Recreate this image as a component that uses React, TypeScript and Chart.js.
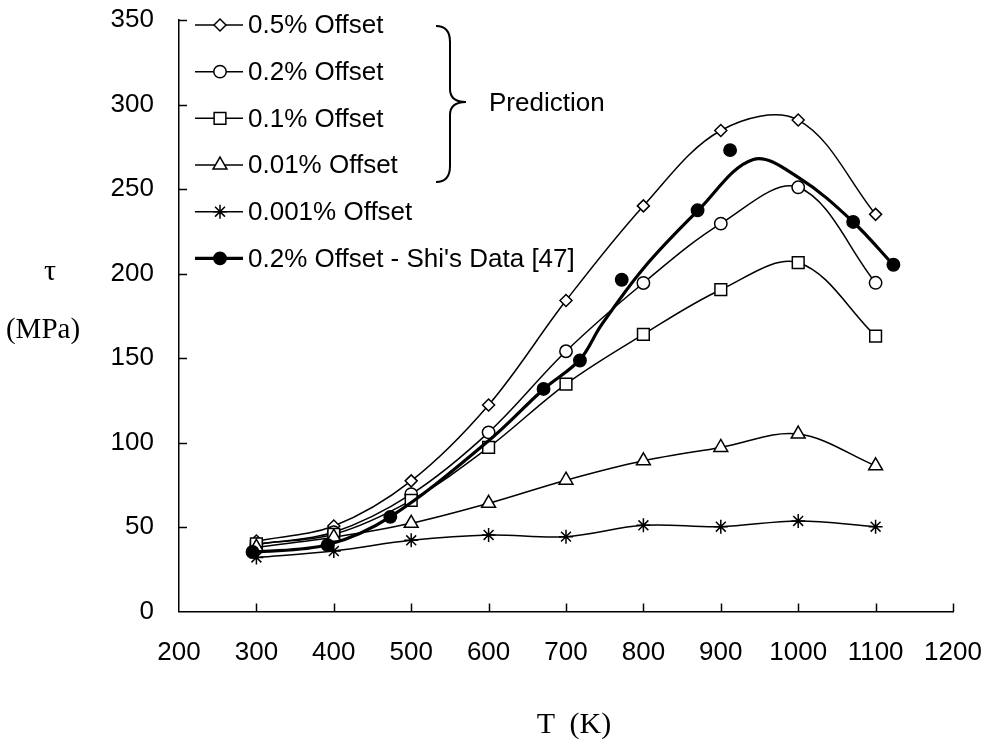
import React, { useEffect, useRef } from 'react';
import { Chart, registerables } from 'chart.js';

Chart.register(...registerables);

// ---- data ----
const temps = [300, 400, 500, 600, 700, 800, 900, 1000, 1100];
const offset05 = [41.7, 50.6, 77.3, 122.2, 184, 240, 284.6, 290.8, 235];
const offset02 = [39.7, 46.9, 69.4, 106, 154, 194.4, 229.5, 251, 194.5];
const offset01 = [40, 45.7, 65.8, 97.1, 134.6, 164, 190.4, 206.4, 163];
const offset001 = [38, 44, 52.2, 64, 77.7, 89.2, 97.1, 105, 86.2];
const offset0001 = [32, 35.8, 42.1, 45.3, 44.3, 51, 50.2, 53.6, 50.2];

const shiT = [295, 392, 473, 671, 718, 772, 870, 912, 1071, 1123];
const shiTau = [35.2, 39.3, 56, 131.7, 148.5, 196.3, 237.4, 273, 230.5, 205.2];

const shiFitT = [295, 392, 473, 600, 671, 718, 745, 800, 870, 942, 1003, 1071, 1123];
const shiFitTau = [35, 39.5, 56, 101, 131.5, 149, 169, 203, 237, 267.5, 256, 230.5, 205];

const xTickValues = [200, 300, 400, 500, 600, 700, 800, 900, 1000, 1100, 1200];
const yTickValues = [0, 50, 100, 150, 200, 250, 300, 350];

const legendLabels = [
  '0.5% Offset',
  '0.2% Offset',
  '0.1% Offset',
  '0.01% Offset',
  '0.001% Offset',
  "0.2% Offset - Shi's Data [47]",
];

const FONT = '"Liberation Sans", Arial, sans-serif';
const SERIF = '"Liberation Serif", "Times New Roman", serif';

const toXY = (xs: number[], ys: number[]) => xs.map((x, i) => ({ x, y: ys[i] }));

type Marker = { style: string; radius: number; filled: boolean };
const markers: Marker[] = [
  { style: 'rectRot', radius: 6, filled: false },
  { style: 'circle', radius: 6.2, filled: false },
  { style: 'rect', radius: 8.3, filled: false },
  { style: 'triangle', radius: 8, filled: false },
  { style: 'star', radius: 7, filled: false },
  { style: 'circle', radius: 6.2, filled: true },
];
const legendLineWidths = [1.5, 1.5, 1.5, 1.5, 1.5, 3.2];

function drawMarker(ctx: CanvasRenderingContext2D, m: Marker, x: number, y: number) {
  const r = m.radius;
  ctx.beginPath();
  if (m.style === 'circle') {
    ctx.arc(x, y, r, 0, Math.PI * 2);
  } else if (m.style === 'rectRot') {
    ctx.moveTo(x - r, y);
    ctx.lineTo(x, y - r);
    ctx.lineTo(x + r, y);
    ctx.lineTo(x, y + r);
    ctx.closePath();
  } else if (m.style === 'rect') {
    const s = r * Math.SQRT1_2;
    ctx.rect(x - s, y - s, 2 * s, 2 * s);
  } else if (m.style === 'triangle') {
    for (let k = 0; k < 3; k++) {
      const a = (k * 2 * Math.PI) / 3;
      const px = x + Math.sin(a) * r;
      const py = y - Math.cos(a) * r;
      if (k === 0) ctx.moveTo(px, py);
      else ctx.lineTo(px, py);
    }
    ctx.closePath();
  } else if (m.style === 'star') {
    for (let k = 0; k < 4; k++) {
      const a = (k * Math.PI) / 4;
      ctx.moveTo(x - Math.cos(a) * r, y - Math.sin(a) * r);
      ctx.lineTo(x + Math.cos(a) * r, y + Math.sin(a) * r);
    }
  }
  if (m.style !== 'star') {
    ctx.fillStyle = m.filled ? '#000' : '#fff';
    ctx.fill();
  }
  ctx.stroke();
}

const decorPlugin = {
  id: 'decor',
  afterDraw(chart: any) {
    const ctx: CanvasRenderingContext2D = chart.ctx;
    const { left, bottom } = chart.chartArea;
    const xs = chart.scales.x;
    const ys = chart.scales.y;
    ctx.save();
    ctx.strokeStyle = '#000';
    ctx.lineWidth = 1.5;
    // inward tick marks
    for (const v of xTickValues) {
      if (v === xTickValues[0]) continue;
      const px = Math.round(xs.getPixelForValue(v)) + 0.5;
      ctx.beginPath();
      ctx.moveTo(px, bottom);
      ctx.lineTo(px, bottom - 8);
      ctx.stroke();
    }
    for (const v of yTickValues) {
      if (v === yTickValues[0]) continue;
      const py = Math.round(ys.getPixelForValue(v)) + 0.5;
      ctx.beginPath();
      ctx.moveTo(left, py);
      ctx.lineTo(left + 8, py);
      ctx.stroke();
    }

    // legend
    const rowY0 = 25;
    const rowGap = 46.67;
    ctx.font = `26px ${FONT}`;
    ctx.textBaseline = 'middle';
    ctx.textAlign = 'left';
    legendLabels.forEach((label, i) => {
      const y = rowY0 + i * rowGap;
      ctx.lineWidth = legendLineWidths[i];
      ctx.strokeStyle = '#000';
      ctx.beginPath();
      ctx.moveTo(195, y);
      ctx.lineTo(243, y);
      ctx.stroke();
      ctx.lineWidth = 1.5;
      drawMarker(ctx, markers[i], 220, y);
      ctx.fillStyle = '#000';
      ctx.fillText(label, 248, y + 1);
    });

    // brace
    ctx.lineWidth = 2;
    ctx.strokeStyle = '#000';
    ctx.beginPath();
    ctx.moveTo(436, 26);
    ctx.quadraticCurveTo(450, 26, 450, 42);
    ctx.lineTo(450, 89);
    ctx.quadraticCurveTo(450, 102, 466, 102);
    ctx.quadraticCurveTo(450, 102, 450, 115);
    ctx.lineTo(450, 166);
    ctx.quadraticCurveTo(450, 182, 436, 182);
    ctx.stroke();
    ctx.restore();
  },
};

function buildConfig(): any {
  const thin = (data: number[], i: number) => ({
    label: legendLabels[i],
    data: toXY(temps, data),
    showLine: true,
    borderColor: '#000',
    borderWidth: 1.5,
    tension: 0.35,
    pointStyle: markers[i].style,
    pointRadius: markers[i].radius,
    pointBorderWidth: 1.5,
    pointBorderColor: '#000',
    pointBackgroundColor: '#fff',
    order: 10 - i,
  });
  return {
    type: 'scatter',
    data: {
      datasets: [
        {
          label: 'Shi fit',
          data: toXY(shiFitT, shiFitTau),
          showLine: true,
          borderColor: '#000',
          borderWidth: 3.2,
          tension: 0.35,
          pointRadius: 0,
          order: 2,
        },
        {
          label: legendLabels[5],
          data: toXY(shiT, shiTau),
          showLine: false,
          pointStyle: 'circle',
          pointRadius: markers[5].radius,
          pointBorderWidth: 1.5,
          pointBorderColor: '#000',
          pointBackgroundColor: '#000',
          order: 1,
        },
        thin(offset05, 0),
        thin(offset02, 1),
        thin(offset01, 2),
        thin(offset001, 3),
        thin(offset0001, 4),
      ],
    },
    options: {
      animation: false,
      responsive: false,
      devicePixelRatio: 1,
      layout: { padding: { left: 0, top: 20, right: 32, bottom: 0 } },
      plugins: {
        legend: { display: false },
        tooltip: { enabled: false },
        title: { display: false },
      },
      scales: {
        x: {
          type: 'linear',
          min: 200,
          max: 1200,
          afterFit: (s: any) => {
            s.height = 746 - 611.5;
            s.paddingLeft = 0;
            s.paddingRight = 0;
            s.paddingTop = 0;
            s.paddingBottom = 0;
          },
          afterBuildTicks: (s: any) => {
            s.ticks = xTickValues.map((v) => ({ value: v }));
          },
          ticks: {
            stepSize: 100,
            autoSkip: false,
            maxRotation: 0,
            padding: 26,
            color: '#000',
            font: { family: FONT, size: 26 },
            callback: (v: any) => String(v),
          },
          grid: { display: false, drawTicks: false },
          border: { display: true, color: '#000', width: 1.5 },
        },
        y: {
          type: 'linear',
          min: 0,
          max: 350,
          afterFit: (s: any) => {
            s.width = 179;
            s.paddingLeft = 0;
            s.paddingRight = 0;
            s.paddingTop = 0;
            s.paddingBottom = 0;
          },
          afterBuildTicks: (s: any) => {
            s.ticks = yTickValues.map((v) => ({ value: v }));
          },
          ticks: {
            stepSize: 50,
            autoSkip: false,
            padding: 25,
            color: '#000',
            font: { family: FONT, size: 26 },
            callback: (v: any) => String(v),
          },
          grid: { display: false, drawTicks: false },
          border: { display: true, color: '#000', width: 1.5 },
        },
      },
    },
    plugins: [decorPlugin],
  };
}

const textBase: React.CSSProperties = {
  position: 'absolute',
  color: '#000',
  lineHeight: 1,
  whiteSpace: 'pre',
  transform: 'translate(-50%, -50%)',
};

export default function App() {
  const ref = useRef<HTMLCanvasElement>(null);
  useEffect(() => {
    if (!ref.current) return;
    const chart = new Chart(ref.current, buildConfig());
    return () => chart.destroy();
  }, []);
  return (
    <div
      style={{
        position: 'fixed',
        left: 0,
        top: 0,
        width: 985,
        height: 746,
        background: '#fff',
        overflow: 'hidden',
      }}
    >
      <canvas
        ref={ref}
        width={985}
        height={746}
        style={{ position: 'absolute', left: 0, top: 0, width: 985, height: 746 }}
      />
      <div style={{ ...textBase, left: 50, top: 270, fontFamily: SERIF, fontSize: 30 }}>τ</div>
      <div style={{ ...textBase, left: 43, top: 328, fontFamily: SERIF, fontSize: 29 }}>(MPa)</div>
      <div style={{ ...textBase, left: 574, top: 723, fontFamily: SERIF, fontSize: 30 }}>{'T  (K)'}</div>
      <div
        style={{
          position: 'absolute',
          left: 489,
          top: 102,
          transform: 'translateY(-50%)',
          fontFamily: FONT,
          fontSize: 26,
          lineHeight: 1,
          color: '#000',
        }}
      >
        Prediction
      </div>
    </div>
  );
}
